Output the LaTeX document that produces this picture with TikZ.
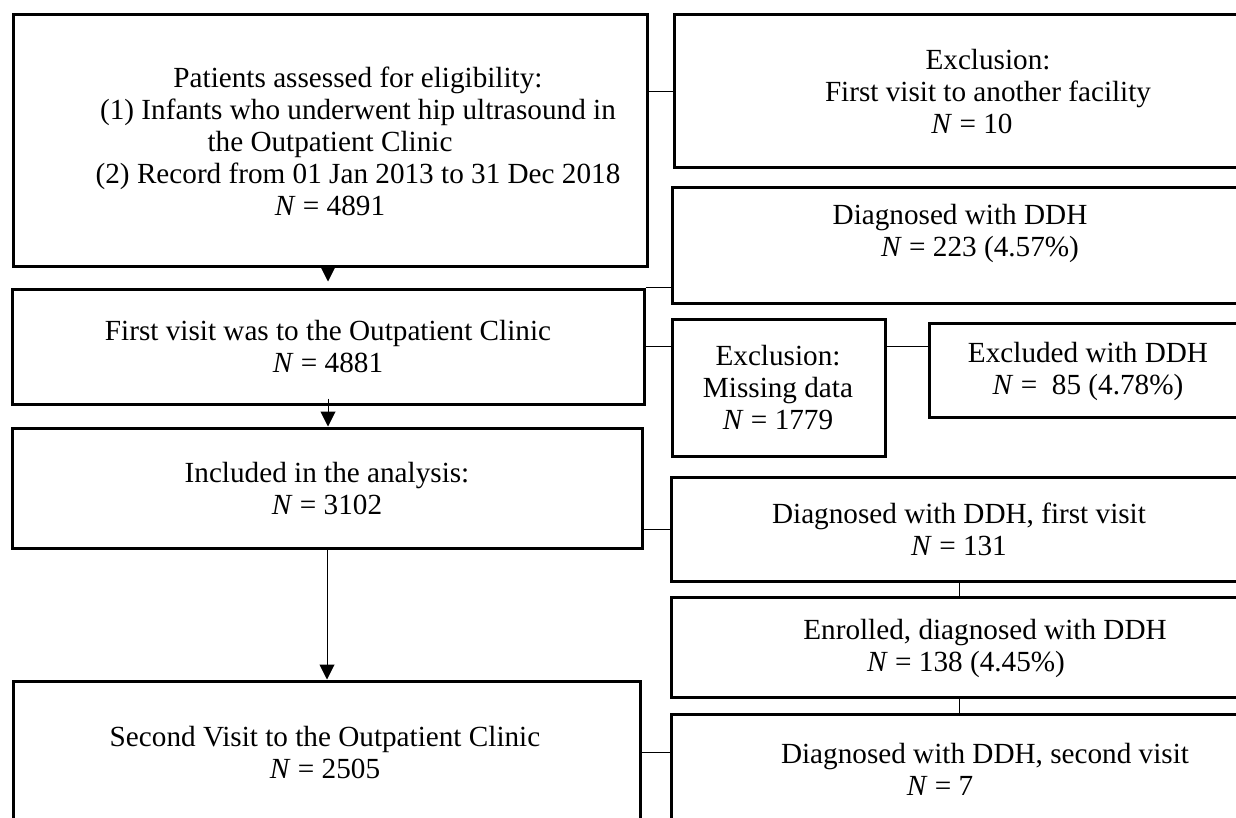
\documentclass[tikz,border=0pt]{standalone}
\usepackage{fontspec}
\setmainfont{Liberation Serif}
\usetikzlibrary{arrows.meta,fit}
\tikzset{
  frame/.style={draw,line width=1.5pt,inner sep=0pt},
  txt/.style={align=center,inner sep=0pt,font=\fontsize{14.6}{16}\selectfont},
  link/.style={line width=0.5pt},
  arr/.style={line width=0.5pt,-{Triangle[width=7.5pt,length=7.5pt]}}
}
\newcommand{\nN}{\textit{N}}
\begin{document}
\begin{tikzpicture}[x=0.5pt,y=-0.5pt]
\useasboundingbox (0,0) rectangle (1236,818);
\clip (0,0) rectangle (1236,818);
% left column
\node[frame,fit={(13,15)(647,267)}] (pat) {};
\node[frame,fit={(12,289)(644,404)}] (first) {};
\node[frame,fit={(12,428)(642,548)}] (incl) {};
\node[frame,fit={(13,681)(640,823)}] (second) {};
\node[txt] (pat-t) at (358,141) {Patients assessed for eligibility:\\
  (1) Infants who underwent hip ultrasound in\\
  \hspace*{-28pt}the Outpatient Clinic\\
  (2) Record from 01 Jan 2013 to 31 Dec 2018\\
  \hspace*{-28pt}\nN{} = 4891};
\node[txt] (first-t) at (328,347) {First visit was to the Outpatient Clinic\\ \nN{} = 4881};
\node[txt] (incl-t) at (327,489) {Included in the analysis:\\ \nN{} = 3102};
\node[txt] (second-t) at (325,753) {Second Visit to the Outpatient Clinic\\ \nN{} = 2505};
% right column
\node[frame,fit={(674,15)(1250,168)}] (excl) {};
\node[frame,fit={(672,188)(1250,303)}] (ddh) {};
\node[frame,fit={(672,319)(885,456)}] (miss) {};
\node[frame,fit={(929,323)(1250,417)}] (exddh) {};
\node[frame,fit={(671,477)(1247,581)}] (ddh1) {};
\node[frame,fit={(671,597)(1247,697)}] (enr) {};
\node[frame,fit={(671,714)(1247,830)}] (ddh2) {};
\node[txt] (excl-t) at (988,92) {Exclusion:\\ First visit to another facility\\ \hspace*{-16pt}\nN{} = 10};
\node[txt] (ddh-t) at (970,233) {\hspace*{-10pt}Diagnosed with DDH\\ \hspace*{10pt}\nN{} = 223 (4.57\%)};
\node[txt] (miss-t) at (778,388) {Exclusion:\\ Missing data\\ \nN{} = 1779};
\node[txt] (exddh-t) at (1088,371) {Excluded with DDH\\ \nN{} =\ \ 85 (4.78\%)};
\node[txt] (ddh1-t) at (959,529) {Diagnosed with DDH, first visit\\ \nN{} = 131};
\node[txt] (enr-t) at (976,648) {\hspace*{9pt}Enrolled, diagnosed with DDH\\ \hspace*{-10pt}\nN{} = 138 (4.45\%)};
\node[txt] (ddh2-t) at (962,769) {\hspace*{23pt}Diagnosed with DDH, second visit\\ \hspace*{-22pt}\nN{} = 7};
% arrows down
\draw[arr,shorten >=3pt] (first.north |- pat.south) -- (first.north);
\draw[arr] ([yshift=3.5pt]first.south) -- (first.south |- incl.north);
\draw[arr] (incl.south) -- (incl.south |- second.north);
% side links
\draw[link] (excl.west) -- (excl.west -| pat.east);
\draw[link] (first.north east) -- (first.north east -| ddh.west);
\draw[link] (first.east) -- (first.east -| miss.west);
\draw[link] (first.east -| miss.east) -- (first.east -| exddh.west);
\draw[link] (ddh1.west) -- (ddh1.west -| incl.east);
\draw[link] (ddh1.south) -- (enr.north);
\draw[link] (enr.south) -- (ddh2.north);
\draw[link] (second.east) -- (second.east -| ddh2.west);
\end{tikzpicture}
\end{document}
